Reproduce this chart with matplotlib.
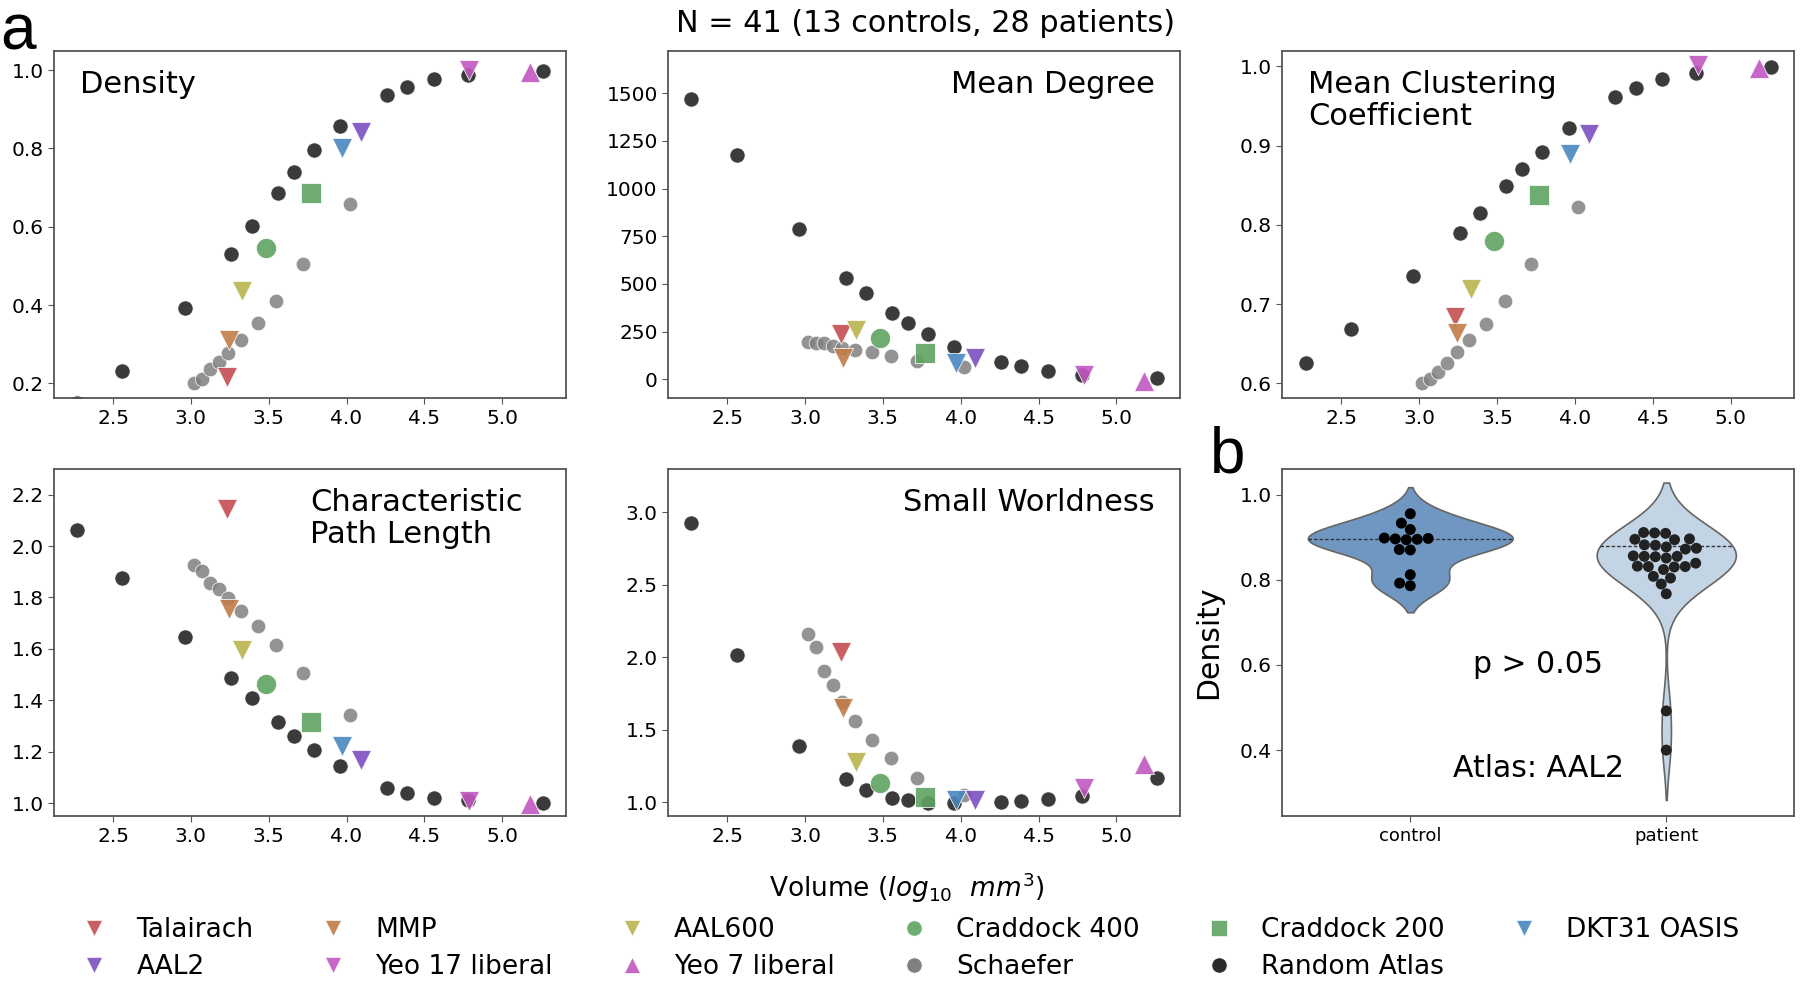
import numpy as np
import matplotlib
matplotlib.use("Agg")
import matplotlib.pyplot as plt
from matplotlib.lines import Line2D

# ---- data ----
rand_x = [2.27, 2.56, 2.96, 3.26, 3.39, 3.56, 3.66, 3.79, 3.96, 4.26, 4.39, 4.56, 4.78, 5.26]
schaefer_x = [3.02, 3.07, 3.12, 3.18, 3.24, 3.32, 3.43, 3.55, 3.72, 4.02]
atlas_names = ["Talairach", "MMP", "AAL600", "Craddock 400", "Craddock 200",
               "DKT31 OASIS", "AAL2", "Yeo 17 liberal", "Yeo 7 liberal"]
atlas_x = [3.23, 3.245, 3.33, 3.48, 3.77, 3.97, 4.09, 4.79, 5.18]
atlas_markers = ["v", "v", "v", "o", "s", "v", "v", "v", "^"]
atlas_colors = ["#c44e52", "#c27c48", "#b8b44c", "#5fa362", "#5fa362",
                "#4a87c0", "#7c4fc0", "#c157c1", "#c157c1"]

density_rand = [0.15, 0.232, 0.392, 0.531, 0.603, 0.687, 0.740, 0.795, 0.857, 0.936, 0.958, 0.977, 0.988, 0.998]
density_sch = [0.200, 0.211, 0.236, 0.254, 0.277, 0.311, 0.354, 0.411, 0.506, 0.658]
density_atl = [0.217, 0.311, 0.435, 0.546, 0.687, 0.800, 0.843, 1.001, 0.996]

degree_rand = [1470, 1175, 788, 532, 455, 345, 297, 238, 171, 92, 70, 46, 24, 7]
degree_sch = [198, 192, 189, 172, 166, 154, 142, 122, 98, 63]
degree_atl = [240, 110, 260, 215, 137, 85, 110, 23, -8]

clust_rand = [0.625, 0.669, 0.736, 0.790, 0.815, 0.849, 0.870, 0.892, 0.922, 0.961, 0.973, 0.984, 0.992, 0.999]
clust_sch = [0.600, 0.606, 0.614, 0.626, 0.639, 0.654, 0.675, 0.704, 0.751, 0.822]
clust_atl = [0.684, 0.663, 0.719, 0.779, 0.838, 0.889, 0.914, 1.002, 0.998]

cpl_rand = [2.061, 1.876, 1.647, 1.485, 1.407, 1.316, 1.261, 1.205, 1.143, 1.060, 1.039, 1.021, 1.010, 1.001]
cpl_sch = [1.925, 1.903, 1.857, 1.834, 1.798, 1.746, 1.689, 1.616, 1.506, 1.344]
cpl_atl = [2.146, 1.756, 1.597, 1.462, 1.316, 1.221, 1.169, 1.006, 0.995]

sw_rand = [2.924, 2.018, 1.386, 1.156, 1.080, 1.028, 1.011, 0.993, 0.993, 1.000, 1.007, 1.018, 1.039, 1.163]
sw_sch = [2.161, 2.074, 1.903, 1.811, 1.690, 1.559, 1.430, 1.303, 1.166, 1.046]
sw_atl = [2.034, 1.651, 1.276, 1.131, 1.034, 1.011, 1.011, 1.096, 1.264]

control_density = [0.955, 0.933, 0.918, 0.894, 0.895, 0.896, 0.897, 0.898,
                   0.871, 0.870, 0.812, 0.792, 0.786]
patient_density = [0.910, 0.909, 0.911, 0.896, 0.894, 0.895,
                   0.877, 0.872, 0.882, 0.881, 0.874,
                   0.855, 0.856, 0.851, 0.854, 0.855,
                   0.839, 0.831, 0.830, 0.824, 0.832, 0.831,
                   0.804, 0.808, 0.790, 0.767, 0.492, 0.400]
group_names = ["control", "patient"]
group_lines = [0.896, 0.880]

panels = [
    ("Density", density_rand, density_sch, density_atl, (0.162, 1.048),
     [0.2, 0.4, 0.6, 0.8, 1.0], "left"),
    ("Mean Degree", degree_rand, degree_sch, degree_atl, (-100, 1720),
     [0, 250, 500, 750, 1000, 1250, 1500], "right"),
    ("Mean Clustering\nCoefficient", clust_rand, clust_sch, clust_atl, (0.581, 1.019),
     [0.6, 0.7, 0.8, 0.9, 1.0], "left"),
    ("Characteristic\nPath Length", cpl_rand, cpl_sch, cpl_atl, (0.949, 2.30),
     [1.0, 1.2, 1.4, 1.6, 1.8, 2.0, 2.2], "mid"),
    ("Small Worldness", sw_rand, sw_sch, sw_atl, (0.903, 3.30),
     [1.0, 1.5, 2.0, 2.5, 3.0], "right"),
]

fig = plt.figure(figsize=(18, 9.86), dpi=100)

lefts = [0.030, 0.3712, 0.7124]
bottoms = [0.596, 0.1723]
w, h = 0.2844, 0.352

def style_axes(ax):
    for sp in ax.spines.values():
        sp.set_color("#555555")
        sp.set_linewidth(1.3)
    ax.tick_params(labelsize=14.5, color="#555555", length=4)

for i, (title, yr, ys, ya, ylim, yt, pos) in enumerate(panels):
    ax = fig.add_axes([lefts[i % 3], bottoms[i // 3], w, h])
    ax.scatter(rand_x, yr, s=120, color="#1e1e1e", alpha=0.87, edgecolor="white", linewidth=0.6, zorder=2)
    ax.scatter(schaefer_x, ys, s=110, color="#808080", alpha=0.85, edgecolor="white", linewidth=0.6, zorder=3)
    for xv, yv, m, c in zip(atlas_x, ya, atlas_markers, atlas_colors):
        ax.scatter([xv], [yv], s=210, marker=m, color=c, alpha=0.9, edgecolor="white", linewidth=0.6, zorder=4)
    ax.set_ylim(*ylim)
    ax.set_yticks(yt)
    ax.set_xticks([2.5, 3.0, 3.5, 4.0, 4.5, 5.0])
    style_axes(ax)
    if pos == "left":
        ax.text(0.05, 0.945, title, transform=ax.transAxes, ha="left", va="top", fontsize=22, linespacing=1.12)
    elif pos == "right":
        ax.text(0.95, 0.945, title, transform=ax.transAxes, ha="right", va="top", fontsize=22)
    else:
        ax.text(0.50, 0.945, title, transform=ax.transAxes, ha="left", va="top", fontsize=22, linespacing=1.12)

# ---- violin panel ----
axv = fig.add_axes([lefts[2], bottoms[1], w, h])
axv.set_xlim(-0.5, 1.5)
axv.set_ylim(0.245, 1.06)
groups = [np.array(control_density), np.array(patient_density)]
violin_colors = ["#6f97c1", "#c3d4e5"]

kdes = []
for g in groups:
    bw = g.std(ddof=1) * len(g) ** (-1 / 5)
    sup = np.linspace(g.min() - 2 * bw, g.max() + 2 * bw, 300)
    dens = np.exp(-0.5 * ((sup[:, None] - g[None, :]) / bw) ** 2).sum(axis=1) / (len(g) * bw * np.sqrt(2 * np.pi))
    kdes.append((sup, dens))
dmax = max(d.max() for _, d in kdes)

for k, ((sup, dens), col, med) in enumerate(zip(kdes, violin_colors, group_lines)):
    half = dens / dmax * 0.4
    axv.fill_betweenx(sup, k - half, k + half, facecolor=col, edgecolor="#666666", linewidth=1.2, zorder=1)
    hw = np.interp(med, sup, half)
    axv.plot([k - hw, k + hw], [med, med], color="#333333", linestyle=(0, (2.5, 1.5)), linewidth=1.0, zorder=2)

def swarm_offsets(vals, center, ax, d):
    tr = ax.transData
    ypx = tr.transform(np.column_stack([np.full(len(vals), center), vals]))[:, 1]
    ppu = tr.transform((1, 0))[0] - tr.transform((0, 0))[0]
    placed = []
    offs = np.zeros(len(vals))
    for i in np.argsort(ypx):
        y = ypx[i]
        nb = [(px, py) for px, py in placed if abs(py - y) < d]
        cands = [0.0]
        for px, py in nb:
            dx = np.sqrt(d ** 2 - (py - y) ** 2)
            cands += [px + dx, px - dx]
        cands.sort(key=lambda c: (abs(c), c))
        for c in cands:
            if all((c - px) ** 2 + (py - y) ** 2 >= d ** 2 - 1e-6 for px, py in nb):
                break
        placed.append((c, y))
        offs[i] = c
    return offs / ppu

for k, (g, pc) in enumerate(zip(groups, ["#000000", "#222222"])):
    xo = swarm_offsets(g, k, axv, 11)
    axv.scatter(k + xo, g, s=62, color=pc, edgecolor="none", zorder=3)

axv.set_xticks([0, 1])
axv.set_xticklabels(group_names)
axv.set_yticks([0.4, 0.6, 0.8, 1.0])
style_axes(axv)
axv.tick_params(axis="x", labelsize=13)
axv.set_ylabel("Density", fontsize=21.5, labelpad=12)
axv.text(0.5, 0.60, "p > 0.05", ha="center", va="center", fontsize=21.5)
axv.text(0.5, 0.357, "Atlas: AAL2", ha="center", va="center", fontsize=21.5)

# ---- figure texts ----
fig.text(0.514, 0.976, "N = 41 (13 controls, 28 patients)", ha="center", va="center", fontsize=21.8)
fig.text(0.504, 0.100, r"Volume ($log_{10}\ \ mm^3$)", ha="center", va="center", fontsize=19)
fig.text(0.0, 0.997, "a", ha="left", va="top", fontsize=46, family="Liberation Sans")
fig.text(0.672, 0.538, "b", ha="left", va="center", fontsize=46, family="Liberation Sans")

# ---- legend (column-major order so rows read left to right) ----
handles = {}
for n, m, c in zip(atlas_names, atlas_markers, atlas_colors):
    handles[n] = Line2D([], [], marker=m, linestyle="none", color=c, markersize=11,
                        markeredgecolor="white", markeredgewidth=0.5, alpha=0.9)
handles["Schaefer"] = Line2D([], [], marker="o", linestyle="none", color="#808080", markersize=11,
                             markeredgecolor="white", markeredgewidth=0.5)
handles["Random Atlas"] = Line2D([], [], marker="o", linestyle="none", color="#2b2b2b", markersize=11,
                                 markeredgecolor="white", markeredgewidth=0.5)
order = ["Talairach", "AAL2", "MMP", "Yeo 17 liberal", "AAL600", "Yeo 7 liberal",
         "Craddock 400", "Schaefer", "Craddock 200", "Random Atlas", "DKT31 OASIS"]
fig.legend([handles[n] for n in order], order, ncol=6, loc="lower center",
           bbox_to_anchor=(0.505, -0.018), frameon=False, fontsize=19,
           handlelength=1.2, handletextpad=1.0, columnspacing=2.4, labelspacing=0.42)

fig.savefig("out.png", dpi=100)
